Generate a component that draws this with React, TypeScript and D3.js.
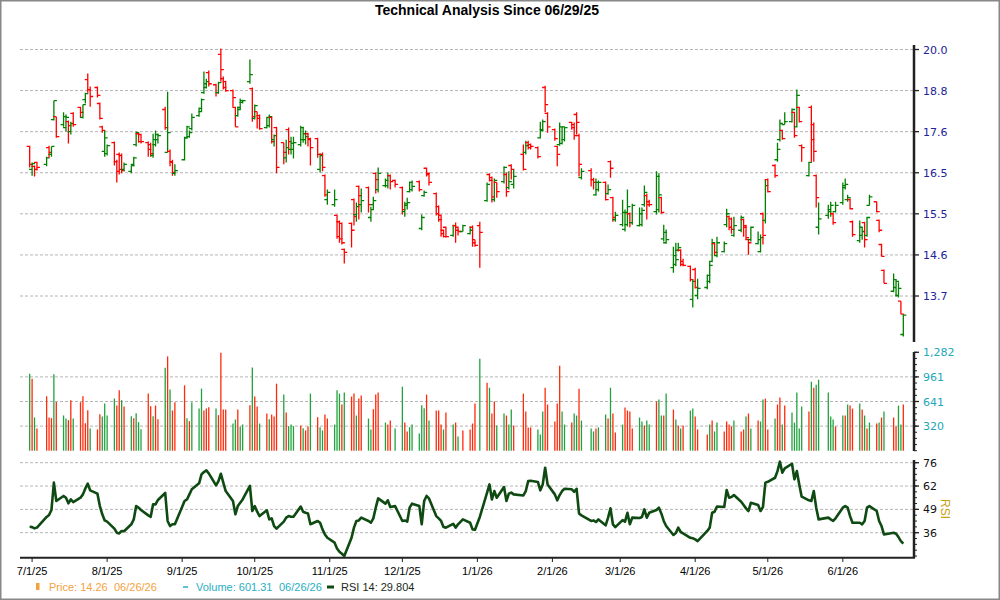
import React from 'react';
import * as d3 from 'd3';

// ---------- data ----------
const firstTradingDay = [2025, 5, 30];
const lastTradingDay = [2026, 5, 26];
const holidays = [
  '2025-07-04', '2025-09-01', '2025-11-27', '2025-12-25', '2026-01-01',
  '2026-01-19', '2026-02-16', '2026-04-03', '2026-05-25', '2026-06-19',
];

const opens = [
  17.22, 16.62, 16.70, 16.80,
  16.75, 17.19, 17.01, 17.95, 18.03,
  17.81, 17.73, 17.89, 17.62, 18.12,
  18.29, 18.01, 18.51, 19.09, 18.80,
  18.86, 18.40, 17.75, 17.09, 17.03,
  17.32, 16.82, 17.01, 16.98, 16.62,
  16.57, 16.75, 17.27, 17.56, 17.54,
  17.32, 17.27, 16.98, 17.27, 17.40,
  18.23, 17.06, 17.09, 16.82, 16.52,
  16.87, 17.45, 17.48, 17.70,
  18.06, 18.17, 18.71, 18.86, 19.30,
  18.94, 18.71, 19.85, 19.12, 19.03,
  18.77, 18.29, 18.06, 18.29, 18.43,
  19.03, 18.83, 17.98, 18.17, 18.06,
  17.73, 17.78, 18.01, 17.40, 17.73,
  17.32, 16.92, 17.67, 17.14, 17.14,
  17.27, 17.40, 17.40, 17.56, 17.43,
  17.43, 16.62, 17.01, 16.46, 15.86,
  15.74, 15.48, 15.33, 15.29, 14.69,
  15.29, 15.86, 15.50, 16.19, 15.74,
  16.16, 15.43, 15.74, 16.52, 16.11,
  16.21, 16.21, 16.46, 16.34,
  16.16, 15.57, 15.72, 16.06, 16.11,
  16.31, 15.17, 15.96, 16.65, 16.49,
  16.01, 15.69, 15.48, 15.13, 15.20,
  15.01, 15.24, 15.20, 15.10,
  15.05, 15.20, 14.91, 15.24,
  15.84, 16.49, 16.41, 15.86, 16.29,
  16.31, 16.49, 16.16, 16.72, 16.24,
  17.01, 17.06, 17.32, 17.27,
  17.19, 17.45, 17.67, 18.86, 18.12,
  17.67, 17.22, 17.27, 17.30, 17.40,
  17.87, 17.81, 18.09, 17.51, 16.41,
  16.59, 16.36, 15.98, 16.11,
  16.29, 16.01, 16.82, 15.91, 15.38,
  15.26, 15.15, 15.26, 15.52, 15.31,
  15.24, 15.26, 15.74, 15.96, 15.81,
  15.57, 15.62, 15.91, 14.93, 14.84,
  14.28, 14.35, 14.67, 14.67, 14.42,
  14.31, 13.60, 14.24, 13.68,
  13.85, 13.98, 14.42, 14.82, 14.55,
  14.64, 15.26, 15.45, 15.40, 15.01,
  15.13, 15.38, 15.24, 14.91, 14.91,
  14.82, 14.64, 15.52, 15.36, 16.36,
  16.72, 16.87, 17.40, 17.65, 17.81,
  17.89, 18.15, 17.75, 18.29, 17.24,
  16.46, 18.29, 17.81, 16.46, 15.20,
  15.48, 15.62, 15.52, 15.57,
  15.79, 16.16, 15.86, 15.86, 15.33,
  14.89, 15.01, 15.31, 15.01, 15.72,
  15.81, 15.36, 14.80, 14.22,
  13.77, 13.85, 13.68, 13.56, 12.88,
];

const highs = [
  17.24, 16.80, 16.72, 16.82,
  16.95, 17.24, 17.22, 18.48, 18.03,
  18.15, 18.09, 17.92, 17.89, 18.15,
  18.31, 18.37, 18.71, 19.27, 18.89,
  18.89, 18.43, 17.78, 17.65, 17.27,
  17.35, 16.87, 17.06, 17.03, 16.80,
  16.72, 16.95, 17.62, 17.59, 17.56,
  17.35, 17.32, 17.56, 17.65, 17.56,
  18.31, 18.74, 17.14, 16.87, 16.75,
  17.48, 17.78, 17.65, 18.12,
  18.29, 18.54, 19.33, 19.12, 19.36,
  18.97, 19.03, 20.03, 19.18, 19.06,
  18.80, 18.31, 18.31, 18.54, 18.51,
  19.69, 18.86, 18.37, 18.17, 18.09,
  18.03, 18.09, 18.03, 17.54, 17.75,
  17.32, 17.40, 17.73, 17.48, 17.48,
  17.78, 17.75, 17.65, 17.59, 17.45,
  17.45, 17.03, 17.06, 16.49, 16.11,
  16.11, 15.50, 15.36, 15.31, 14.71,
  15.31, 15.89, 15.79, 16.21, 16.14,
  16.19, 15.69, 15.93, 16.54, 16.67,
  16.39, 16.54, 16.49, 16.36,
  16.19, 15.81, 15.91, 16.31, 16.34,
  16.34, 15.50, 16.09, 16.67, 16.54,
  16.04, 15.72, 15.50, 15.15, 15.22,
  15.26, 15.31, 15.22, 15.26,
  15.22, 15.24, 14.91, 15.33,
  16.29, 16.52, 16.44, 16.39, 16.29,
  16.70, 16.54, 16.57, 16.75, 16.62,
  17.27, 17.37, 17.37, 17.30,
  17.22, 17.89, 17.95, 18.91, 18.15,
  17.70, 17.24, 17.87, 17.75, 17.73,
  17.89, 17.87, 18.15, 17.56, 16.65,
  16.65, 16.41, 16.39, 16.34,
  16.31, 16.24, 16.85, 15.93, 15.57,
  15.86, 15.62, 16.11, 15.55, 15.76,
  15.67, 15.67, 16.21, 16.01, 15.86,
  16.57, 16.52, 15.93, 15.26, 15.15,
  14.75, 14.84, 14.84, 14.69, 14.48,
  14.33, 14.02, 14.28, 14.04,
  14.13, 14.42, 14.93, 14.84, 14.98,
  14.87, 15.64, 15.48, 15.43, 15.45,
  15.48, 15.40, 15.26, 14.93, 15.22,
  15.10, 15.03, 15.55, 16.36, 16.39,
  16.75, 17.32, 17.95, 17.67, 18.15,
  18.26, 18.17, 18.80, 18.31, 17.27,
  16.82, 18.34, 17.87, 16.49, 15.79,
  15.74, 15.81, 15.55, 15.81,
  16.29, 16.39, 15.98, 15.89, 15.36,
  15.36, 15.20, 15.33, 15.45, 15.98,
  15.81, 15.38, 14.82, 14.24,
  14.15, 14.02, 13.96, 13.56, 13.29,
];

const lows = [
  16.67, 16.46, 16.44, 16.59,
  16.70, 16.92, 16.95, 17.92, 17.45,
  17.75, 17.62, 17.30, 17.54, 17.75,
  18.01, 17.98, 18.40, 18.71, 18.31,
  18.57, 17.95, 17.59, 16.95, 16.98,
  16.72, 16.29, 16.49, 16.52, 16.57,
  16.52, 16.70, 17.22, 17.32, 17.30,
  16.95, 16.95, 16.92, 17.22, 17.30,
  17.67, 17.06, 16.70, 16.46, 16.46,
  16.85, 17.43, 17.45, 17.65,
  18.03, 18.15, 18.68, 18.83, 18.89,
  18.60, 18.68, 19.03, 18.80, 18.74,
  18.31, 17.75, 18.03, 18.23, 18.40,
  18.97, 17.89, 17.95, 17.70, 17.67,
  17.70, 17.73, 17.30, 17.22, 16.52,
  16.75, 16.80, 17.01, 17.01, 16.90,
  17.22, 17.32, 17.27, 17.22, 16.72,
  16.92, 16.54, 16.57, 15.93, 15.74,
  15.69, 14.93, 14.84, 14.80, 14.37,
  14.73, 15.24, 15.33, 15.38, 15.55,
  15.55, 15.33, 15.62, 16.01, 16.04,
  16.16, 16.14, 16.11, 16.16,
  15.50, 15.45, 15.62, 16.04, 16.06,
  16.06, 15.13, 15.93, 16.44, 16.21,
  15.48, 15.33, 14.98, 14.96, 14.96,
  14.98, 14.84, 15.01, 15.10,
  15.03, 14.75, 14.75, 14.28,
  15.81, 16.31, 15.79, 15.81, 15.91,
  16.26, 15.93, 16.11, 16.36, 16.14,
  16.59, 17.01, 17.14, 17.14,
  16.90, 17.43, 17.62, 18.15, 17.59,
  17.37, 16.70, 17.24, 17.27, 17.35,
  17.67, 17.40, 17.54, 16.44, 16.36,
  16.19, 16.11, 15.96, 16.06,
  15.84, 15.98, 16.41, 15.33, 15.33,
  15.22, 15.10, 15.22, 15.20, 15.26,
  15.22, 15.22, 15.69, 15.38, 15.69,
  15.50, 15.55, 15.52, 14.87, 14.82,
  14.17, 14.31, 14.64, 14.31, 14.31,
  13.98, 13.43, 13.83, 13.60,
  13.81, 13.94, 14.40, 14.55, 14.51,
  14.62, 15.20, 15.13, 15.05, 14.98,
  15.08, 14.98, 14.91, 14.57, 14.87,
  14.80, 14.62, 14.80, 15.29, 16.04,
  16.41, 16.82, 17.35, 17.40, 17.81,
  17.87, 17.45, 17.73, 17.87, 16.82,
  16.44, 16.82, 16.82, 15.67, 15.03,
  15.40, 15.45, 15.26, 15.55,
  15.74, 16.11, 15.81, 15.62, 14.98,
  14.84, 14.91, 14.73, 14.98, 15.72,
  15.55, 15.08, 14.53, 13.94,
  13.75, 13.66, 13.64, 13.29, 12.84,
];

const closes = [
  16.75, 16.77, 16.62, 16.67,
  16.92, 17.06, 17.22, 18.48, 17.48,
  18.03, 18.01, 17.78, 17.84, 17.81,
  18.15, 18.37, 18.68, 18.80, 18.60,
  18.63, 17.98, 17.65, 17.45, 17.24,
  16.82, 16.57, 16.62, 16.59, 16.75,
  16.72, 16.92, 17.59, 17.35, 17.35,
  17.14, 17.03, 17.40, 17.54, 17.51,
  17.73, 17.59, 16.80, 16.54, 16.59,
  17.45, 17.75, 17.59, 18.01,
  18.26, 18.51, 18.97, 19.03, 18.97,
  18.71, 19.00, 19.39, 18.86, 18.77,
  18.57, 17.75, 18.23, 18.48, 18.48,
  19.24, 18.03, 18.34, 17.98, 17.70,
  18.01, 18.03, 17.35, 17.51, 16.67,
  17.06, 17.19, 17.35, 17.30, 17.32,
  17.73, 17.56, 17.48, 17.40, 17.19,
  17.01, 16.98, 16.67, 15.98, 16.04,
  15.86, 14.98, 14.93, 14.84, 14.62,
  15.13, 15.45, 15.69, 15.96, 15.84,
  15.74, 15.62, 15.84, 16.36, 16.52,
  16.34, 16.46, 16.31, 16.24,
  15.62, 15.76, 15.79, 16.29, 16.19,
  16.11, 15.43, 16.04, 16.52, 16.29,
  15.52, 15.38, 15.05, 14.98, 14.98,
  15.24, 15.13, 15.10, 15.24,
  15.13, 14.84, 14.78, 15.08,
  16.24, 16.34, 15.93, 16.34, 16.06,
  16.67, 16.06, 16.31, 16.62, 16.44,
  16.62, 17.24, 17.19, 17.22,
  16.95, 17.65, 17.89, 18.37, 17.75,
  17.43, 17.01, 17.75, 17.75, 17.73,
  17.73, 17.51, 17.87, 16.75, 16.57,
  16.36, 16.29, 16.29, 16.29,
  15.86, 16.11, 16.65, 15.43, 15.48,
  15.55, 15.55, 15.69, 15.31, 15.72,
  15.52, 15.60, 16.04, 15.74, 15.74,
  16.44, 15.98, 15.55, 15.08, 14.91,
  14.55, 14.46, 14.73, 14.35, 14.33,
  14.02, 13.98, 13.85, 13.83,
  14.11, 14.33, 14.84, 14.62, 14.84,
  14.82, 15.52, 15.20, 15.15, 15.24,
  15.43, 15.20, 14.96, 14.84, 15.20,
  14.91, 14.96, 15.01, 16.21, 16.06,
  16.46, 17.14, 17.84, 17.43, 17.89,
  18.23, 17.51, 18.63, 17.89, 17.19,
  16.80, 17.40, 17.09, 15.91, 15.40,
  15.57, 15.72, 15.31, 15.72,
  16.21, 16.24, 15.91, 15.64, 15.03,
  15.20, 15.10, 14.91, 15.43, 15.93,
  15.57, 15.13, 14.53, 13.94,
  14.02, 13.98, 13.83, 13.29, 13.27,
];

const volumes = [
  1004, 939, 433, 290,
  709, 433, 424, 995, 636,
  459, 420, 398, 658, 420,
  632, 709, 359, 528, 290,
  277, 476, 446, 615, 459,
  680, 589, 787, 658, 576,
  450, 424, 489, 372, 281,
  744, 580, 450, 589, 411,
  1082, 1228, 796, 524, 632,
  852, 424, 385, 632,
  550, 809, 524, 550, 567,
  550, 463, 1276, 537, 537,
  355, 407, 537, 316, 342,
  592, 1085, 705, 575, 354,
  484, 411, 471, 445, 873,
  731, 497, 320, 341, 320,
  329, 294, 264, 316, 744,
  437, 307, 264, 471, 419,
  341, 787, 744, 601, 757,
  705, 744, 458, 679, 718,
  419, 277, 540, 731, 757,
  367, 341, 393, 290,
  834, 367, 251, 307, 341,
  225, 592, 553, 731, 393,
  523, 523, 341, 277, 497,
  341, 367, 186, 264,
  277, 354, 614, 1197,
  886, 821, 484, 640, 329,
  484, 458, 341, 536, 329,
  744, 510, 303, 303,
  277, 212, 510, 821, 601,
  380, 614, 1107, 510, 341,
  367, 484, 458, 808, 393,
  290, 251, 290, 303,
  471, 419, 821, 484, 238,
  341, 562, 523, 510, 290,
  432, 380, 329, 393, 341,
  640, 666, 458, 458, 744,
  536, 406, 329, 290, 329,
  523, 549, 445, 277,
  212, 341, 393, 251, 367,
  251, 380, 341, 316, 393,
  251, 277, 445, 484, 290,
  393, 380, 666, 679, 277,
  419, 601, 692, 341, 588,
  497, 367, 757, 290, 575,
  510, 899, 821, 860, 925,
  757, 445, 406, 316,
  458, 458, 601, 588, 549,
  614, 536, 458, 290, 367,
  354, 367, 432, 510,
  432, 316, 588, 341, 601.31,
];

// 1 = up-volume day, 0 = down-volume day
const volumeUp = [
  1, 0, 1, 0,
  0, 0, 0, 1, 0,
  1, 1, 0, 0, 1,
  0, 0, 0, 0, 1,
  0, 0, 1, 1, 1,
  1, 0, 0, 1, 0,
  1, 0, 1, 1, 1,
  0, 0, 1, 0, 0,
  1, 0, 1, 0, 0,
  0, 1, 0, 1,
  1, 1, 0, 0, 0,
  1, 0, 0, 0, 0,
  1, 1, 0, 1, 1,
  0, 1, 0, 0, 1,
  0, 1, 0, 0, 0,
  1, 0, 1, 1, 1,
  0, 1, 0, 0, 1,
  0, 1, 1, 0, 0,
  1, 1, 1, 0, 1,
  0, 0, 1, 0, 0,
  1, 1, 0, 0, 0,
  1, 0, 0, 1,
  1, 0, 0, 1, 1,
  1, 1, 1, 0, 1,
  0, 0, 0, 1, 0,
  1, 0, 1, 0,
  0, 0, 0, 1,
  0, 1, 0, 0, 1,
  1, 0, 1, 1, 0,
  0, 0, 0, 0,
  1, 1, 1, 0, 0,
  0, 0, 0, 1, 1,
  0, 1, 1, 0, 1,
  1, 1, 0, 1,
  1, 0, 1, 0, 0,
  1, 0, 0, 0, 0,
  1, 1, 0, 1, 1,
  0, 1, 1, 0, 1,
  0, 1, 0, 1, 0,
  1, 1, 0, 0,
  0, 1, 0, 1, 1,
  0, 0, 0, 0, 1,
  0, 0, 1, 0, 1,
  0, 1, 1, 0, 0,
  1, 0, 0, 1, 0,
  1, 1, 1, 1, 1,
  0, 1, 0, 1, 1,
  1, 1, 1, 0,
  1, 0, 1, 0, 0,
  1, 0, 1, 0, 1,
  0, 1, 0, 1,
  0, 0, 1, 1, 0,
];

const rsi14 = [
  39.4, 39.2, 38.5, 38.9,
  45.0, 46.1, 49.0, 64.6, 54.1,
  57.0, 56.0, 52.8, 55.0, 53.5,
  56.0, 57.9, 61.3, 64.0, 60.2,
  58.3, 51.2, 46.5, 43.0, 42.3,
  38.3, 36.0, 35.6, 37.0, 36.8,
  40.8, 43.6, 51.2, 50.3, 49.0,
  45.9, 45.1, 52.2, 52.2, 54.7,
  58.7, 42.7, 39.8, 40.8, 40.8,
  54.1, 55.0, 57.9, 60.8,
  64.2, 69.3, 70.7, 71.6, 69.9,
  63.0, 65.5, 69.7, 64.6, 59.8,
  54.1, 46.5, 51.2, 53.1, 55.0,
  62.7, 48.4, 51.2, 48.0, 45.5,
  48.8, 43.6, 44.2, 39.8, 38.3,
  42.3, 44.6, 45.5, 45.1, 45.1,
  50.9, 48.0, 47.4, 47.0, 40.8,
  42.7, 41.7, 37.9, 35.0, 33.1,
  30.3, 27.0, 25.1, 24.0, 22.7,
  33.1, 38.9, 42.7, 43.0, 44.6,
  42.7, 41.7, 44.2, 50.3, 55.6,
  52.6, 54.5, 50.7, 51.2,
  42.7, 43.0, 42.3, 50.3, 52.6,
  51.2, 40.8, 54.1, 57.0, 55.6,
  45.5, 44.2, 42.7, 39.2, 38.9,
  41.1, 38.9, 40.8, 43.6,
  41.7, 37.9, 37.7, 45.0,
  58.9, 63.6, 55.0, 59.8, 56.0,
  62.1, 54.1, 58.3, 58.9, 57.9,
  57.3, 59.8, 65.5, 65.7,
  65.0, 60.2, 63.6, 73.1, 63.6,
  57.9, 54.5, 57.5, 59.8, 61.1,
  60.8, 59.4, 61.1, 47.0, 45.9,
  42.7, 43.0, 42.1, 43.6,
  40.2, 44.6, 49.9, 40.8, 39.2,
  43.2, 42.3, 47.4, 40.8, 44.6,
  44.4, 45.0, 49.3, 44.6, 47.4,
  49.0, 50.3, 47.0, 42.7, 39.8,
  34.7, 35.8, 38.9, 36.4, 35.6,
  33.1, 32.8, 32.2, 31.2,
  37.0, 38.9, 47.4, 48.0, 51.0,
  50.7, 60.4, 56.0, 56.4, 57.5,
  53.7, 51.8, 49.9, 48.4, 53.1,
  51.8, 48.4, 50.7, 64.6, 65.1,
  67.4, 71.2, 76.6, 70.3, 72.8,
  75.4, 66.5, 71.2, 63.6, 56.6,
  54.5, 54.1, 59.8, 50.3, 43.6,
  44.6, 43.6, 42.7, 44.2,
  50.3, 51.2, 50.3, 45.5, 41.7,
  41.7, 40.8, 42.7, 50.3, 51.2,
  48.4, 42.7, 39.8, 35.0,
  36.0, 35.4, 33.5, 31.2, 29.804,
];

const priceTicks = [20.0, 18.771, 17.617, 16.534, 15.518, 14.564, 13.669];
const volumeTicks = [320.5, 641, 961.5, 1282];
const rsiTicks = [36, 49.333, 62.667, 76];

const titleText = 'Technical Analysis Since 06/29/25';
const legendPrice = 'Price: 14.26';
const legendVolume = 'Volume: 601.31';
const legendDate = '06/26/26';
const legendRsi = 'RSI 14: 29.804';

// ---------- layout ----------
const W = 1000;
const H = 600;
const plotL = 20;
const plotR = 913;
const axisX = 914;

const ARIAL = 'Liberation Sans, Arial, Helvetica, sans-serif';
const VERD = 'DejaVu Sans, Verdana, Tahoma, sans-serif';

const fmtKey = d3.timeFormat('%Y-%m-%d');

function buildDates(): Date[] {
  const hol = new Set(holidays);
  const out: Date[] = [];
  const start = new Date(firstTradingDay[0], firstTradingDay[1], firstTradingDay[2]);
  const end = new Date(lastTradingDay[0], lastTradingDay[1], lastTradingDay[2]);
  for (let d = start; d <= end; d = d3.timeDay.offset(d, 1)) {
    const dow = d.getDay();
    if (dow === 0 || dow === 6) continue;
    if (hol.has(fmtKey(d))) continue;
    out.push(d);
  }
  return out;
}

export default function App() {
  const dates = buildDates();
  const n = Math.min(dates.length, opens.length, highs.length, lows.length, closes.length);
  const bars = d3.range(n).map((i) => ({
    date: dates[i],
    o: opens[i],
    h: highs[i],
    l: lows[i],
    c: closes[i],
    v: volumes[i],
    up: volumeUp[i],
    rsi: rsi14[i],
  }));

  const x = d3
    .scaleTime()
    .domain([new Date(2025, 5, 26), new Date(2026, 5, 30)])
    .range([plotL, plotR]);
  const yP = d3.scaleLog().domain([13.669, 20]).range([296, 49.5]);
  const yV = d3.scaleLinear().domain([0, 1282]).range([450.7, 352.3]);
  const yR = d3.scaleLinear().domain([36, 76]).range([532.7, 462.7]);

  const monthTicks = d3.timeMonth.range(new Date(2025, 6, 1), new Date(2026, 6, 1));
  const fmtMonth = d3.timeFormat('%-m/%-d/%y');

  const volMinor = d3.range(0, 17).map((k) => (k * 1282) / 16);
  const rsiMinor = d3
    .range(-4, 13)
    .map((k) => 36 + (k * 40) / 12)
    .filter((v) => yR(v) >= 459 && yR(v) <= 558);

  const rsiLine = d3
    .line<any>()
    .x((d) => x(d.date))
    .y((d) => yR(d.rsi));

  const grid = { stroke: '#b4b4b4', strokeWidth: 1, strokeDasharray: '3,2' };
  const greenP = '#008000';
  const redP = '#ff0000';
  const greenV = '#22a23e';
  const redV = '#ff2a0a';

  return (
    <div style={{ position: 'absolute', left: 0, top: 0, width: W, height: H, background: '#fff' }}>
      <svg width={W} height={H} viewBox={`0 0 ${W} ${H}`} style={{ display: 'block' }}>
        <rect x={0} y={0} width={W} height={H} fill="#fff" />
        <rect x={0.75} y={0.75} width={W - 1.5} height={H - 1.5} fill="none" stroke="#888" strokeWidth={1.5} />

        {/* title */}
        <text x={487} y={15} textAnchor="middle" fontFamily={ARIAL} fontWeight="bold" fontSize={14} fill="#000">
          {titleText}
        </text>

        {/* grids */}
        {priceTicks.map((t) => (
          <line key={'pg' + t} x1={plotL} x2={plotR} y1={yP(t)} y2={yP(t)} {...grid} />
        ))}
        {volumeTicks.slice(0, 3).map((t) => (
          <line key={'vg' + t} x1={plotL} x2={plotR} y1={yV(t)} y2={yV(t)} {...grid} />
        ))}
        {rsiTicks.map((t) => (
          <line key={'rg' + t} x1={plotL} x2={plotR} y1={yR(t)} y2={yR(t)} {...grid} />
        ))}

        {/* price OHLC bars */}
        <g strokeWidth={1.3} fill="none">
          {bars.map((b, i) => {
            const cx = x(b.date);
            const col = b.c >= b.o ? greenP : redP;
            const d = `M${cx},${yP(b.h)}V${yP(b.l)}M${cx - 3},${yP(b.o)}H${cx}M${cx},${yP(b.c)}H${cx + 3}`;
            return <path key={'p' + i} d={d} stroke={col} />;
          })}
        </g>

        {/* volume bars */}
        <g strokeWidth={1.3}>
          {bars.map((b, i) => {
            const cx = x(b.date);
            return (
              <line
                key={'v' + i}
                x1={cx}
                x2={cx}
                y1={yV(0)}
                y2={yV(b.v)}
                stroke={b.up ? greenV : redV}
              />
            );
          })}
        </g>

        {/* RSI line */}
        <path d={rsiLine(bars) || ''} fill="none" stroke="#0e4a12" strokeWidth={2.6} strokeLinejoin="round" />

        {/* right axes */}
        <g stroke="#222">
          <line x1={axisX} x2={axisX} y1={45} y2={342} strokeWidth={2.5} />
          <line x1={axisX} x2={axisX} y1={352} y2={451} strokeWidth={2.5} />
          <line x1={axisX} x2={axisX} y1={460} y2={558} strokeWidth={2.5} />
          {priceTicks.map((t) => (
            <line key={'pt' + t} x1={axisX} x2={axisX + 5} y1={yP(t)} y2={yP(t)} strokeWidth={1.3} />
          ))}
          {volMinor.map((t) => (
            <line key={'vm' + t} x1={axisX} x2={axisX + 3} y1={yV(t)} y2={yV(t)} strokeWidth={1} />
          ))}
          {volumeTicks.map((t) => (
            <line key={'vt' + t} x1={axisX} x2={axisX + 5} y1={yV(t)} y2={yV(t)} strokeWidth={1.3} />
          ))}
          {rsiMinor.map((t) => (
            <line key={'rm' + t} x1={axisX} x2={axisX + 3} y1={yR(t)} y2={yR(t)} strokeWidth={1} />
          ))}
          {rsiTicks.map((t) => (
            <line key={'rt' + t} x1={axisX} x2={axisX + 5} y1={yR(t)} y2={yR(t)} strokeWidth={1.3} />
          ))}
        </g>
        <g fontFamily={VERD} fontSize={11}>
          {priceTicks.map((t) => (
            <text key={'pl' + t} x={923} y={yP(t) + 4} fill="#22229a">
              {t.toFixed(1)}
            </text>
          ))}
          {volumeTicks.map((t) => (
            <text key={'vl' + t} x={923} y={yV(t) + 4} fill="#22a7b8">
              {d3.format(',')(Math.floor(t))}
            </text>
          ))}
          {rsiTicks.map((t) => (
            <text key={'rl' + t} x={923} y={yR(t) + 4} fill="#111">
              {Math.floor(t)}
            </text>
          ))}
        </g>
        <text
          x={0}
          y={0}
          transform={`translate(941,509) rotate(90)`}
          textAnchor="middle"
          fontFamily={ARIAL}
          fontSize={12}
          fill="#c9a010"
        >
          RSI
        </text>

        {/* x axis */}
        <line x1={plotL} x2={axisX + 1} y1={557.7} y2={557.7} stroke="#222" strokeWidth={2} />
        {monthTicks.map((m) => (
          <g key={'m' + +m}>
            <line x1={x(m)} x2={x(m)} y1={558} y2={562} stroke="#222" strokeWidth={1} />
            <text x={x(m)} y={575} textAnchor="middle" fontFamily={ARIAL} fontSize={11} fill="#000">
              {fmtMonth(m)}
            </text>
          </g>
        ))}

        {/* legend */}
        <g fontFamily={ARIAL} fontSize={11}>
          <rect x={36} y={583} width={3.5} height={7} fill="#f4a23e" />
          <text x={49} y={591} fill="#f4a23e">{legendPrice}</text>
          <text x={114} y={591} fill="#f4a23e">{legendDate}</text>
          <line x1={183} x2={188} y1={587} y2={587} stroke="#27afc4" strokeWidth={1.5} />
          <text x={196} y={591} fill="#27afc4">{legendVolume}</text>
          <text x={279} y={591} fill="#27afc4">{legendDate}</text>
          <line x1={327} x2={334} y1={587} y2={587} stroke="#0e4a12" strokeWidth={3} />
          <text x={341} y={591} fill="#1a2a1a">{legendRsi}</text>
        </g>
      </svg>
    </div>
  );
}
